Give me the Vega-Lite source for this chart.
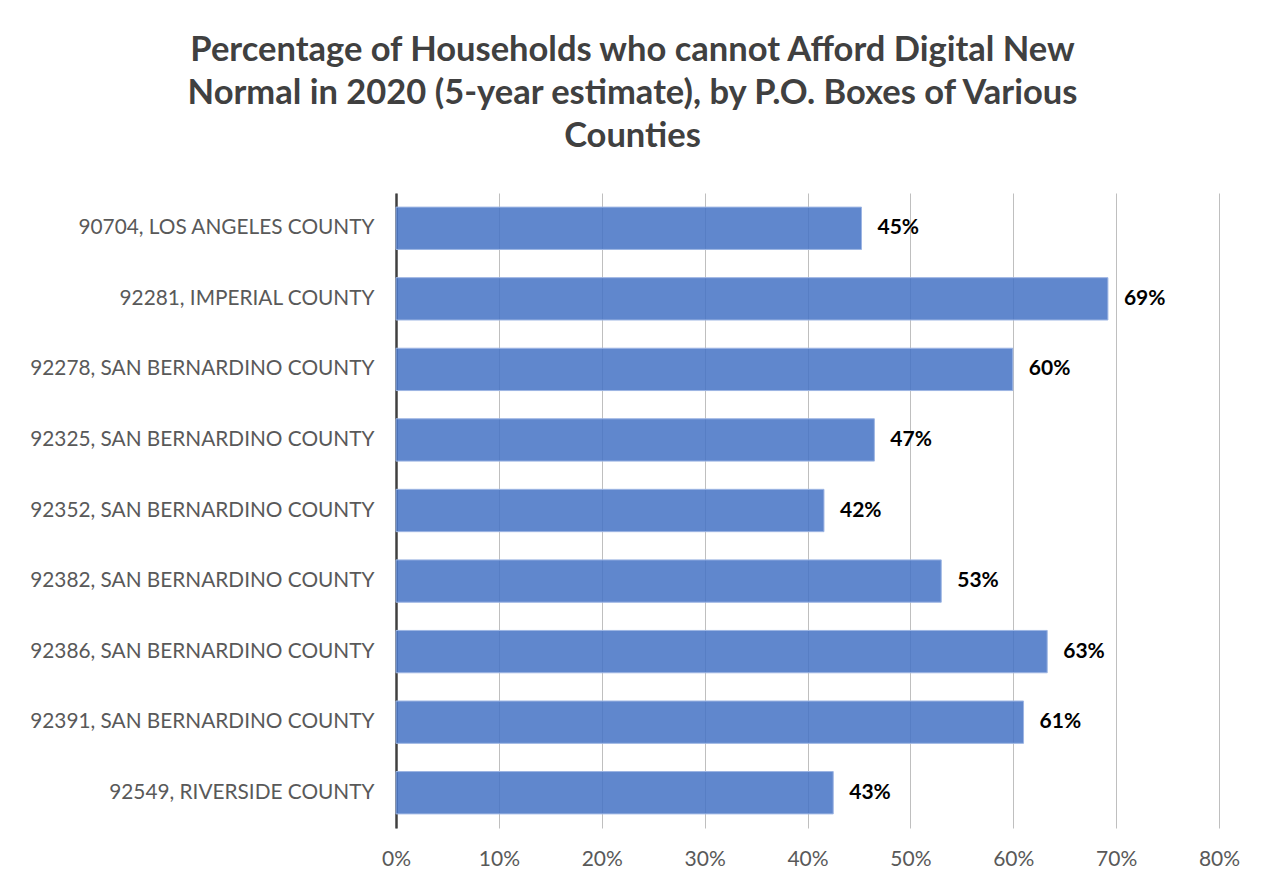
{
  "$schema": "https://vega.github.io/schema/vega-lite/v6.json",
  "width": 823,
  "height": 635,
  "autosize": {"type": "none"},
  "padding": {"left": 396, "top": 193, "right": 44, "bottom": 53},
  "background": "white",
  "title": {
    "text": ["Percentage of Households who cannot Afford Digital New", "Normal in 2020 (5-year estimate), by P.O. Boxes of Various", "Counties"],
    "font": "Lato",
    "fontSize": 34.5,
    "fontWeight": "bold",
    "color": "#404040",
    "lineHeight": 43,
    "anchor": "middle",
    "frame": "group",
    "dx": -175,
    "offset": 39
  },
  "data": {
    "values": [
      {"zip": "90704, LOS ANGELES COUNTY", "pct": 0.4525, "label": "45%"},
      {"zip": "92281, IMPERIAL COUNTY", "pct": 0.692, "label": "69%"},
      {"zip": "92278, SAN BERNARDINO COUNTY", "pct": 0.5996, "label": "60%"},
      {"zip": "92325, SAN BERNARDINO COUNTY", "pct": 0.465, "label": "47%"},
      {"zip": "92352, SAN BERNARDINO COUNTY", "pct": 0.416, "label": "42%"},
      {"zip": "92382, SAN BERNARDINO COUNTY", "pct": 0.53, "label": "53%"},
      {"zip": "92386, SAN BERNARDINO COUNTY", "pct": 0.633, "label": "63%"},
      {"zip": "92391, SAN BERNARDINO COUNTY", "pct": 0.61, "label": "61%"},
      {"zip": "92549, RIVERSIDE COUNTY", "pct": 0.425, "label": "43%"}
    ]
  },
  "encoding": {
    "y": {
      "field": "zip",
      "type": "nominal",
      "sort": null,
      "title": null,
      "scale": {"paddingInner": 0.4, "paddingOuter": 0.2},
      "axis": {
        "domain": true,
        "domainColor": "#404040",
        "domainWidth": 2.5,
        "ticks": false,
        "labelPadding": 22,
        "labelFont": "Lato",
        "labelFontSize": 20.8,
        "labelColor": "#595959",
        "labelLimit": 400,
        "grid": false
      }
    }
  },
  "layer": [
    {
      "mark": {"type": "bar", "color": "#4472C4", "fillOpacity": 0.85, "stroke": "#9DB5E3", "strokeWidth": 1},
      "encoding": {
        "x": {
          "field": "pct",
          "type": "quantitative",
          "title": null,
          "scale": {"domain": [0, 0.8], "nice": false},
          "axis": {
            "format": ".0%",
            "values": [0, 0.1, 0.2, 0.3, 0.4, 0.5, 0.6, 0.7, 0.8],
            "domain": false,
            "ticks": false,
            "grid": true,
            "gridColor": "#BFBFBF",
            "gridWidth": 1,
            "labelPadding": 20,
            "labelFlush": false,
            "labelOverlap": false,
            "labelFont": "Lato",
            "labelFontSize": 21,
            "labelColor": "#595959"
          }
        }
      }
    },
    {
      "mark": {"type": "text", "align": "left", "dx": 16, "font": "Lato", "fontSize": 21, "fontWeight": "bold", "color": "#000000"},
      "encoding": {
        "x": {"field": "pct", "type": "quantitative"},
        "text": {"field": "label"}
      }
    }
  ],
  "config": {
    "view": {"stroke": null},
    "axisX": {"gridOpacity": 1}
  }
}
